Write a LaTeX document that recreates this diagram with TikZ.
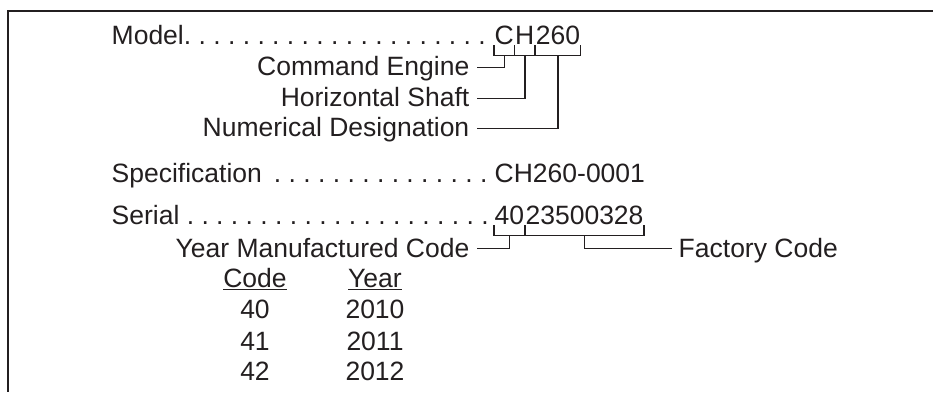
\documentclass[tikz,border=0pt]{standalone}
\usepackage{fontspec}
\setmainfont{Liberation Sans}
\usetikzlibrary{positioning}
\definecolor{ink}{RGB}{35,31,32}
\frenchspacing

\begin{document}
\begin{tikzpicture}
      [x = 1pt, y = 1pt, line width = 1.4pt, color = ink,
       txt/.style = {inner sep = 0pt, font = \fontsize{26.5}{31}\selectfont},
       lbl/.style = {txt, anchor = base east},
       row/.style = {txt, anchor = base west}]
      \useasboundingbox (0,0) rectangle (933,392);
      \draw[line width = 1.8pt] (933,381) -- (8,381) -- (8,0);

      % model
      \node[row] (model) at (111,348) {Model. . . . . . . . . . . . . . . . . . . . .};
      \node[row] (c) at (494,348) {C};
      \node[txt, base right = 0pt of c] (h) {H};
      \node[txt, base right = 0pt of h] (num) {260};
      \draw ([yshift=-1pt]c.base west) |- ([yshift=-11.5pt]num.base east) -- ([yshift=-1pt]num.base east);
      \foreach \n in {h, num}
        \draw ([yshift=-1pt]\n.base west) -- ([yshift=-11.5pt]\n.base west);
      \node[lbl] (engine) at (470,316.5) {Command Engine};
      \node[lbl] (shaft) at (470,285.5) {Horizontal Shaft};
      \node[lbl] (design) at (470,255.5) {Numerical Designation};
      \foreach \t/\s in {engine/c, shaft/h, design/num}
        \draw ([shift={(7,8.3)}]\t.base east) -| ([yshift=-11.5pt]\s.base);

      % specification
      \node[row] (spec) at (111,210) {Specification\hspace{12pt}. . . . . . . . . . . . . . .};
      \node[row] (specv) at (494,210) {CH260-0001};

      % serial
      \node[row] (serial) at (111,168) {Serial . . . . . . . . . . . . . . . . . . . . .};
      \node[row] (yr) at (494,168) {40};
      \node[txt, base right = 0pt of yr] (fac) {23500328};
      \draw ([yshift=-1pt]yr.base west) |- ([yshift=-11.5pt]fac.base east) -- ([yshift=-1pt]fac.base east);
      \draw ([yshift=-1pt]fac.base west) -- ([yshift=-11.5pt]fac.base west);
      \node[lbl] (made) at (470,135) {Year Manufactured Code};
      \node[row] (factory) at (678,135) {Factory Code};
      \draw ([shift={(7,8.3)}]made.base east) -| ([yshift=-11.5pt]yr.base);
      \draw ([shift={(-6,8.3)}]factory.base west) -| ([yshift=-11.5pt]fac.base);

      % code table
      \node[txt, anchor = base] (code) at (255,104.5) {\underline{Code}};
      \node[txt, anchor = base] (year) at (375,104.5) {\underline{Year}};
      \foreach \c/\y/\b in {40/2010/73.5, 41/2011/42, 42/2012/11.5} {
        \node[txt, anchor = base] (code\c) at (255,\b) {\c};
        \node[txt, anchor = base] (year\c) at (375,\b) {\y};
      }
\end{tikzpicture}
\end{document}
